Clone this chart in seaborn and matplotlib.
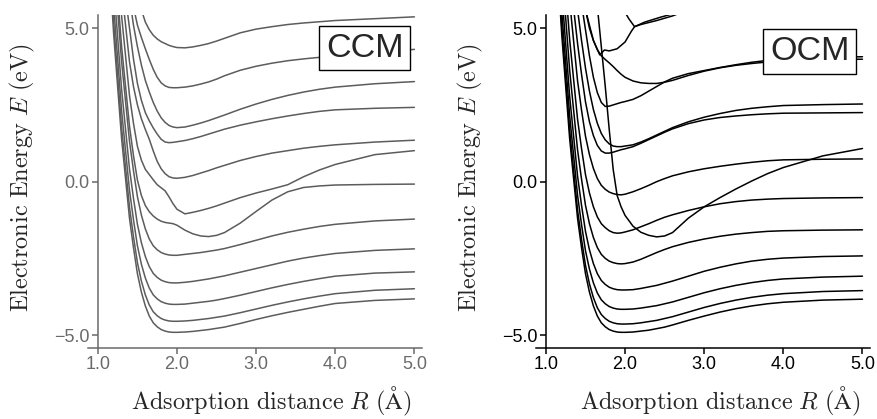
import matplotlib.pyplot as plt
import pandas as pd
import seaborn as sns

# adsorption distance grid (Angstrom)
R = [1.1, 1.2, 1.3, 1.4, 1.45, 1.5, 1.55, 1.6, 1.65, 1.7, 1.75, 1.8, 1.85, 1.9, 1.95, 2.0,
     2.1, 2.2, 2.3, 2.4, 2.5, 2.6, 2.8, 3.0, 3.2, 3.4, 3.6, 3.8, 4.0, 4.5, 5.0]

# CCM states, bottom to top (eV)
ccm_1 = [9.0, 4.8, 1.4, -1.2, -2.15, -3.0, -3.6, -4.05, -4.38, -4.6, -4.73, -4.82, -4.87, -4.9, -4.91, -4.91,
         -4.9, -4.88, -4.85, -4.82, -4.78, -4.74, -4.62, -4.49, -4.37, -4.26, -4.16, -4.06, -3.97, -3.87, -3.82]
ccm_2 = [9.36, 5.16, 1.76, -0.84, -1.79, -2.64, -3.24, -3.69, -4.02, -4.24, -4.37, -4.46, -4.51, -4.54, -4.55, -4.55,
         -4.54, -4.52, -4.49, -4.46, -4.42, -4.38, -4.27, -4.15, -4.03, -3.92, -3.82, -3.73, -3.65, -3.54, -3.49]
ccm_3 = [9.91, 5.71, 2.31, -0.29, -1.24, -2.09, -2.69, -3.14, -3.47, -3.69, -3.82, -3.91, -3.96, -3.99, -4.0, -4.0,
         -3.99, -3.96, -3.93, -3.9, -3.86, -3.81, -3.7, -3.58, -3.46, -3.35, -3.25, -3.16, -3.08, -2.98, -2.94]
ccm_4 = [10.6, 6.41, 3.01, 0.41, -0.54, -1.39, -1.99, -2.44, -2.77, -2.99, -3.12, -3.21, -3.26, -3.29, -3.3, -3.3,
         -3.28, -3.25, -3.21, -3.17, -3.12, -3.07, -2.95, -2.83, -2.71, -2.59, -2.49, -2.41, -2.34, -2.24, -2.19]
ccm_5 = [11.5, 7.31, 3.91, 1.31, 0.36, -0.49, -1.09, -1.54, -1.87, -2.09, -2.22, -2.31, -2.36, -2.39, -2.4, -2.4,
         -2.37, -2.34, -2.31, -2.27, -2.23, -2.18, -2.05, -1.91, -1.77, -1.65, -1.55, -1.46, -1.39, -1.28, -1.22]
ccm_6 = [12.0, 7.8, 4.4, 1.8, 0.85, 0.05, -0.45, -0.78, -0.98, -1.12, -1.22, -1.29, -1.33, -1.35, -1.37, -1.42,
         -1.58, -1.7, -1.77, -1.79, -1.75, -1.66, -1.35, -0.97, -0.6, -0.33, -0.19, -0.14, -0.11, -0.09, -0.08]
ccm_7 = [13.0, 8.8, 5.4, 2.8, 1.9, 1.15, 0.7, 0.4, 0.23, 0.06, -0.1, -0.2, -0.3, -0.5, -0.72, -0.9,
         -1.05, -1.0, -0.94, -0.87, -0.79, -0.7, -0.52, -0.37, -0.24, -0.1, 0.16, 0.38, 0.56, 0.88, 1.01]
ccm_8 = [13.5, 9.6, 6.3, 3.9, 3.1, 2.5, 2.05, 1.7, 1.38, 1.0, 0.66, 0.42, 0.26, 0.16, 0.12, 0.11,
         0.14, 0.2, 0.28, 0.36, 0.45, 0.53, 0.69, 0.82, 0.93, 1.01, 1.09, 1.15, 1.2, 1.29, 1.35]
ccm_9 = [14.0, 10.2, 7.0, 5.0, 4.0, 3.2, 2.65, 2.25, 1.98, 1.75, 1.55, 1.38, 1.29, 1.27, 1.28, 1.3,
         1.34, 1.4, 1.47, 1.55, 1.63, 1.71, 1.84, 1.95, 2.05, 2.14, 2.22, 2.29, 2.34, 2.39, 2.42]
ccm_10 = [14.5, 10.8, 7.9, 6.0, 5.1, 4.4, 3.8, 3.3, 2.92, 2.58, 2.3, 2.08, 1.93, 1.83, 1.78, 1.76,
          1.78, 1.84, 1.91, 1.99, 2.08, 2.17, 2.36, 2.53, 2.68, 2.81, 2.92, 3.01, 3.08, 3.19, 3.26]
ccm_11 = [15.0, 11.5, 8.7, 6.6, 5.7, 5.1, 4.7, 4.33, 3.98, 3.66, 3.4, 3.22, 3.12, 3.07, 3.06, 3.06,
          3.08, 3.12, 3.18, 3.25, 3.34, 3.45, 3.63, 3.76, 3.86, 3.94, 4.0, 4.05, 4.1, 4.2, 4.31]
ccm_12 = [16.0, 12.5, 9.8, 7.8, 7.0, 6.3, 5.6, 5.2, 4.95, 4.77, 4.65, 4.56, 4.5, 4.44, 4.4, 4.37,
          4.36, 4.39, 4.44, 4.5, 4.58, 4.67, 4.85, 4.97, 5.05, 5.12, 5.17, 5.21, 5.25, 5.31, 5.37]

# OCM states (eV)
ocm_1 = [9.0, 4.8, 1.4, -1.2, -2.15, -3.0, -3.6, -4.05, -4.38, -4.6, -4.73, -4.82, -4.87, -4.9, -4.91, -4.91,
         -4.9, -4.87, -4.84, -4.79, -4.74, -4.67, -4.52, -4.38, -4.25, -4.14, -4.05, -3.98, -3.93, -3.86, -3.83]
ocm_2 = [9.27, 5.07, 1.67, -0.93, -1.88, -2.73, -3.33, -3.78, -4.11, -4.33, -4.46, -4.55, -4.6, -4.63, -4.64, -4.64,
         -4.63, -4.6, -4.56, -4.52, -4.46, -4.4, -4.25, -4.1, -3.97, -3.86, -3.77, -3.7, -3.65, -3.58, -3.55]
ocm_3 = [9.75, 5.55, 2.15, -0.45, -1.4, -2.25, -2.85, -3.3, -3.63, -3.85, -3.98, -4.07, -4.12, -4.15, -4.16, -4.16,
         -4.15, -4.12, -4.08, -4.04, -3.98, -3.92, -3.77, -3.62, -3.49, -3.38, -3.29, -3.22, -3.17, -3.11, -3.08]
ocm_4 = [10.4, 6.18, 2.78, 0.18, -0.77, -1.62, -2.22, -2.67, -3.0, -3.22, -3.35, -3.44, -3.49, -3.52, -3.53, -3.53,
         -3.52, -3.48, -3.43, -3.38, -3.31, -3.24, -3.08, -2.92, -2.79, -2.68, -2.59, -2.53, -2.49, -2.44, -2.42]
ocm_5 = [11.2, 7.03, 3.63, 1.03, 0.08, -0.77, -1.37, -1.82, -2.15, -2.37, -2.5, -2.59, -2.64, -2.67, -2.68, -2.67,
         -2.62, -2.53, -2.42, -2.31, -2.21, -2.12, -1.98, -1.87, -1.78, -1.71, -1.66, -1.62, -1.6, -1.58, -1.57]
ocm_6 = [12.2, 8.03, 4.63, 2.03, 1.08, 0.23, -0.37, -0.82, -1.15, -1.37, -1.5, -1.6, -1.66, -1.68, -1.67, -1.64,
         -1.57, -1.47, -1.37, -1.26, -1.16, -1.08, -0.94, -0.82, -0.72, -0.65, -0.6, -0.57, -0.55, -0.53, -0.52]
ocm_7 = [13.5, 9.3, 5.88, 3.28, 2.33, 1.48, 0.88, 0.43, 0.1, -0.12, -0.25, -0.34, -0.39, -0.42, -0.43, -0.41,
         -0.33, -0.23, -0.12, 0.0, 0.1, 0.19, 0.32, 0.42, 0.5, 0.57, 0.63, 0.68, 0.71, 0.73, 0.74]
ocm_8 = [14.0, 10.0, 6.8, 4.5, 3.5, 2.6, 1.95, 1.5, 1.18, 1.0, 0.93, 0.93, 0.96, 1.0, 1.04, 1.07,
         1.14, 1.25, 1.37, 1.49, 1.61, 1.72, 1.89, 2.01, 2.09, 2.14, 2.18, 2.21, 2.23, 2.24, 2.25]
ocm_9 = [14.5, 10.6, 7.5, 5.6, 4.6, 3.7, 2.95, 2.35, 1.9, 1.57, 1.36, 1.23, 1.16, 1.14, 1.14, 1.16,
         1.2, 1.29, 1.4, 1.52, 1.64, 1.76, 1.95, 2.1, 2.22, 2.32, 2.39, 2.44, 2.48, 2.51, 2.53]
ocm_10 = [15.0, 11.5, 8.7, 6.7, 5.8, 4.95, 4.1, 3.4, 2.9, 2.58, 2.45, 2.46, 2.5, 2.54, 2.58, 2.61,
          2.68, 2.8, 2.95, 3.1, 3.25, 3.37, 3.52, 3.62, 3.72, 3.81, 3.89, 3.95, 3.99, 4.04, 4.07]
ocm_11 = [16.0, 12.5, 9.6, 7.3, 6.3, 5.6, 5.0, 4.6, 4.3, 4.1, 3.98, 3.87, 3.75, 3.62, 3.5, 3.4,
          3.28, 3.22, 3.2, 3.2, 3.24, 3.3, 3.46, 3.6, 3.71, 3.79, 3.85, 3.9, 3.93, 3.97, 3.99]
ocm_cross = [16.0, 14.0, 12.0, 10.5, 9.8, 9.0, 8.2, 7.0, 5.7, 4.4, 3.1, 1.7, 0.4, -0.45, -0.82, -1.1,
             -1.45, -1.65, -1.75, -1.8, -1.77, -1.66, -1.19, -0.82, -0.52, -0.24, 0.02, 0.26, 0.46, 0.84, 1.08]
# short upper OCM branches, own R points
ocm_top1_R = [1.4, 1.5, 1.6, 1.68, 1.74, 1.8, 1.9, 2.0, 2.08, 2.12, 2.2, 2.4, 2.6, 2.7]
ocm_top1 = [7.0, 5.6, 4.6, 4.13, 4.29, 4.26, 4.33, 4.55, 4.9, 5.05, 5.12, 5.25, 5.4, 5.5]
ocm_top2_R = [1.98, 2.05, 2.12, 2.25, 2.45, 2.65]
ocm_top2 = [5.6, 5.3, 5.05, 5.2, 5.36, 5.5]

ticks_R = [1.0, 2.0, 3.0, 4.0, 5.0]
ticks_E = [-5.0, 0.0, 5.0]


def long_form(curves):
    frames = [pd.DataFrame({'R': r, 'E': e, 'state': i}) for i, (r, e) in enumerate(curves)]
    return pd.concat(frames, ignore_index=True)


ccm_df = long_form([(R, c) for c in [ccm_1, ccm_2, ccm_3, ccm_4, ccm_5, ccm_6,
                                     ccm_7, ccm_8, ccm_9, ccm_10, ccm_11, ccm_12]])
ocm_df = long_form([(R, c) for c in [ocm_1, ocm_2, ocm_3, ocm_4, ocm_5, ocm_6, ocm_7,
                                     ocm_8, ocm_9, ocm_10, ocm_11, ocm_cross]]
                   + [(ocm_top1_R, ocm_top1), (ocm_top2_R, ocm_top2)])

sns.set_style('ticks')
plt.rcParams['font.family'] = ['Liberation Sans', 'DejaVu Sans']
plt.rcParams['mathtext.fontset'] = 'cm'

fig = plt.figure(figsize=(8.77, 4.19), dpi=100)
ax1 = fig.add_axes([0.1003, 0.1695, 0.3808, 0.7947])
ax2 = fig.add_axes([0.6112, 0.1695, 0.3808, 0.7947])

panels = [
    (ax1, ccm_df, '#5c5c5c', '#6a6a6a', 'CCM', (0.829, 0.875), 0.548),
    (ax2, ocm_df, 'black', 'black', 'OCM', (0.820, 0.865), 0.553),
]

for ax, df, line_col, axis_col, name, box_xy, xlab_x in panels:
    sns.lineplot(data=df, x='R', y='E', units='state', estimator=None, sort=False,
                 color=line_col, lw=1.1, ax=ax, legend=False)
    ax.set_xlim(0.875, 5.095)
    ax.set_ylim(-5.42, 5.43)
    ax.spines[['top', 'right']].set_visible(False)
    ax.spines['left'].set_position(('data', 1.0))
    for s in ['left', 'bottom']:
        ax.spines[s].set_color(axis_col)
        ax.spines[s].set_linewidth(1.1)
    ax.set_xticks(ticks_R, [f'{v:.1f}' for v in ticks_R])
    ax.set_yticks(ticks_E, [f'{v:.1f}'.replace('-', '\u2212') for v in ticks_E])
    ax.tick_params(direction='out', length=4, width=1.1, pad=2,
                   labelsize=13, color=axis_col, labelcolor=axis_col)
    ax.set_xlabel(r'$\mathrm{Adsorption\ distance}\ R\ \mathrm{(Å)}$', fontsize=17.5)
    ax.xaxis.set_label_coords(xlab_x, -0.112)
    ax.set_ylabel(r'$\mathrm{Electronic\ Energy}\ E\ \mathrm{(eV)}$', fontsize=17.5)
    ax.yaxis.set_label_coords(-0.153, 0.512)
    ax.text(box_xy[0], box_xy[1], name, transform=ax.transAxes, fontsize=24.5,
            ha='center', va='baseline', zorder=5,
            bbox=dict(boxstyle='square,pad=0.2', fc='white', ec='black', lw=1.0))

fig.savefig('out.png', dpi=100)
